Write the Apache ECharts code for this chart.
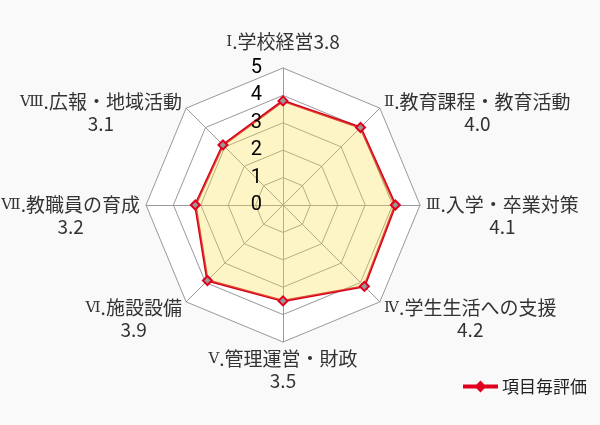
<!DOCTYPE html>
<html><head><meta charset="utf-8">
<script src="https://cdn.jsdelivr.net/npm/echarts@6/dist/echarts.min.js"></script>
<style>html,body{margin:0;padding:0;background:#f9f9f9}#c{width:600px;height:425px}</style>
</head><body><div id="c"></div>
<script>
// Indicators listed counter-clockwise from the top (ECharts radar order)
const numerals = ['Ⅰ','Ⅷ','Ⅶ','Ⅵ','Ⅴ','Ⅳ','Ⅲ','Ⅱ'];
const categories = ['.学校経営','.広報・地域活動','.教職員の育成','.施設設備','.管理運営・財政','.学生生活への支援','.入学・卒業対策','.教育課程・教育活動'];
const values = [3.8, 3.1, 3.2, 3.9, 3.5, 4.2, 4.1, 4.0];
const seriesName = '項目毎評価';
const maxValue = 5;

const FONT = '"Noto Sans CJK JP", sans-serif';
const SERIF = '"DejaVu Serif", "Liberation Serif", "Noto Sans CJK JP", serif';
const names = categories.map((c, i) => numerals[i] + c);
const chart = echarts.init(document.getElementById('c'));
// empty spacer line height (px) used to place each label like the reference
const spacer = [0, 18, 22, 26, 0, 26, 22, 18];
function fmtName(name) {
  const i = names.indexOf(name);
  const v = values[i].toFixed(1);
  const head = '{r|' + numerals[i] + '}{c|' + categories[i] + '}';
  if (i === 0) return head + '{c|' + v + '}\n{p|}';
  const sp = spacer[i] ? '{s' + spacer[i] + '|}\n' : '';
  return sp + head + '\n{c|' + v + '}';
}
const center = [283, 205];
const radius = 137;
chart.setOption({
  backgroundColor: '#f9f9f9',
  legend: {
    data: [seriesName],
    right: 8, top: 373,
    itemWidth: 33, itemHeight: 11,
    icon: 'path://M0 4.5H33V6.5H0Z M16.5 1L21 5.5L16.5 10L12 5.5Z',
    textStyle: { fontFamily: FONT, fontSize: 17, color: '#222' },
    itemStyle: { color: '#d4001e' }
  },
  radar: [{
    center: center,
    radius: radius,
    startAngle: 90,
    splitNumber: 5,
    shape: 'polygon',
    nameGap: 6,
    indicator: names.map(n => ({ name: n, max: maxValue, min: 0 })),
    axisName: {
      color: '#333',
      fontFamily: FONT,
      fontSize: 19,
      formatter: fmtName,
      rich: {
        c: { align: 'center', fontFamily: FONT, fontSize: 19, color: '#333', lineHeight: 22 },
        r: { align: 'center', fontFamily: SERIF, fontSize: 15, color: '#333', lineHeight: 22 },
        p: { lineHeight: 9 },
        s18: { lineHeight: 18 },
        s22: { lineHeight: 22 },
        s26: { lineHeight: 26 }
      }
    },
    axisLabel: { show: false },
    axisLine: { lineStyle: { color: '#999', width: 1 } },
    splitLine: { lineStyle: { color: '#999', width: 1 } },
    splitArea: { show: true, areaStyle: { color: ['#ffffff'] } }
  }, {
    // overlay radar used only to draw the ring value labels above the filled area
    center: center,
    radius: radius,
    startAngle: 90,
    splitNumber: 5,
    shape: 'polygon',
    z: 5,
    zlevel: 1,
    indicator: names.map((n, i) => {
      const o = { name: n, max: maxValue, min: 0 };
      if (i === 0) o.axisLabel = { show: true };
      return o;
    }),
    axisName: { show: false },
    axisLabel: { show: false, color: '#000', fontSize: 20, fontFamily: 'Roboto, sans-serif', margin: 21 },
    axisLine: { show: false },
    axisTick: { show: false },
    splitLine: { show: false },
    splitArea: { show: false }
  }],
  series: [{
    type: 'radar',
    radarIndex: 0,
    name: seriesName,
    symbol: 'diamond',
    symbolSize: 9,
    lineStyle: { color: '#d4001e', width: 2.5 },
    itemStyle: { color: '#999', borderColor: '#e0001e', borderWidth: 2 },
    areaStyle: { color: 'rgba(252,224,80,0.45)' },
    data: [{ value: values, name: seriesName }]
  }]
});
</script></body></html>
